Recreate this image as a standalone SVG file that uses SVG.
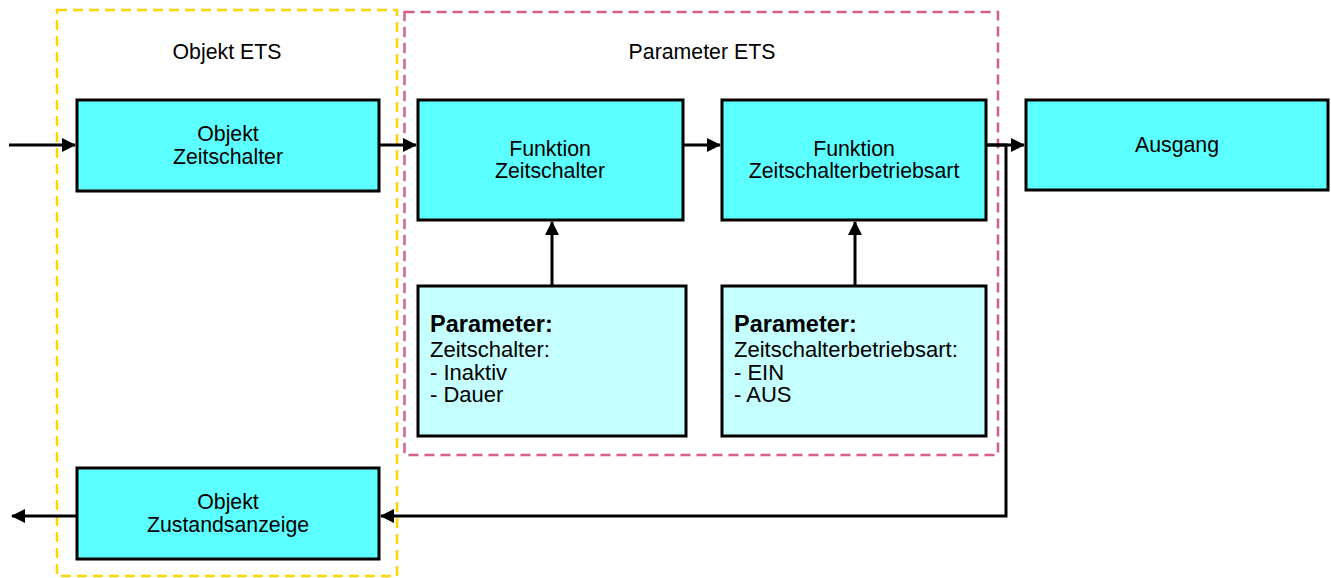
<svg xmlns="http://www.w3.org/2000/svg" width="1331" height="578" viewBox="0 0 1331 578">
<defs>
<style>
.box{fill:#5CFFFF;stroke:#000;stroke-width:3}
.pbox{fill:#C6FFFF;stroke:#000;stroke-width:3}
.t{font-family:"Liberation Sans",Arial,sans-serif;font-size:21.3px;fill:#000}
.c{text-anchor:middle}
.p{font-size:22px}
.b{font-weight:bold;font-size:23.5px}
.con{stroke:#000;stroke-width:3;fill:none}
.grp{fill:none;stroke-width:2.5;stroke-dasharray:10 6}
</style>
<marker id="ah" markerWidth="14" markerHeight="14" refX="13" refY="7" orient="auto" markerUnits="userSpaceOnUse">
<path d="M0,0 L14,7 L0,14 Z" fill="#000"/>
</marker>
</defs>
<rect width="1331" height="578" fill="#fff"/>
<g id="group-objekt-ets">
<rect class="grp" x="57" y="10" width="340" height="566" stroke="#FFD400"/>
<text class="t c" x="227" y="59">Objekt ETS</text>
</g>
<g id="group-parameter-ets">
<rect class="grp" x="404.5" y="12" width="593.5" height="443" stroke="#D4608A"/>
<text class="t c" x="702" y="59">Parameter ETS</text>
</g>
<g id="connectors">
<line class="con" x1="9" y1="145" x2="75" y2="145" marker-end="url(#ah)"/>
<line class="con" x1="379" y1="145" x2="416" y2="145" marker-end="url(#ah)"/>
<line class="con" x1="683" y1="145" x2="720" y2="145" marker-end="url(#ah)"/>
<line class="con" x1="986" y1="145" x2="1024" y2="145" marker-end="url(#ah)"/>
<polyline class="con" points="986,145 1006,145 1006,516 381,516" marker-end="url(#ah)"/>
<line class="con" x1="77" y1="516" x2="12" y2="516" marker-end="url(#ah)"/>
<line class="con" x1="552" y1="286" x2="552" y2="222" marker-end="url(#ah)"/>
<line class="con" x1="855" y1="286" x2="855" y2="222" marker-end="url(#ah)"/>
</g>
<g id="node-objekt-zeitschalter">
<rect class="box" x="77" y="100" width="302" height="91"/>
<text class="t c" x="228" y="141">Objekt</text>
<text class="t c" x="228" y="164">Zeitschalter</text>
</g>
<g id="node-funktion-zeitschalter">
<rect class="box" x="418" y="100" width="265" height="120"/>
<text class="t c" x="550" y="156">Funktion</text>
<text class="t c" x="550" y="178">Zeitschalter</text>
</g>
<g id="node-funktion-betriebsart">
<rect class="box" x="722" y="100" width="264" height="120"/>
<text class="t c" x="854" y="156">Funktion</text>
<text class="t c" x="854" y="178">Zeitschalterbetriebsart</text>
</g>
<g id="node-ausgang">
<rect class="box" x="1026" y="100" width="302" height="90"/>
<text class="t c" x="1177" y="152">Ausgang</text>
</g>
<g id="node-param-zeitschalter">
<rect class="pbox" x="418" y="286" width="268" height="150"/>
<text class="t b" x="430" y="332">Parameter:</text>
<text class="t p" x="430" y="357">Zeitschalter:</text>
<text class="t p" x="430" y="380">- Inaktiv</text>
<text class="t p" x="430" y="402">- Dauer</text>
</g>
<g id="node-param-betriebsart">
<rect class="pbox" x="722" y="286" width="264" height="150"/>
<text class="t b" x="734" y="332">Parameter:</text>
<text class="t p" x="734" y="357">Zeitschalterbetriebsart:</text>
<text class="t p" x="734" y="380">- EIN</text>
<text class="t p" x="734" y="402">- AUS</text>
</g>
<g id="node-objekt-zustandsanzeige">
<rect class="box" x="77" y="468" width="302" height="91"/>
<text class="t c" x="228" y="509">Objekt</text>
<text class="t c" x="228" y="532">Zustandsanzeige</text>
</g>
</svg>
